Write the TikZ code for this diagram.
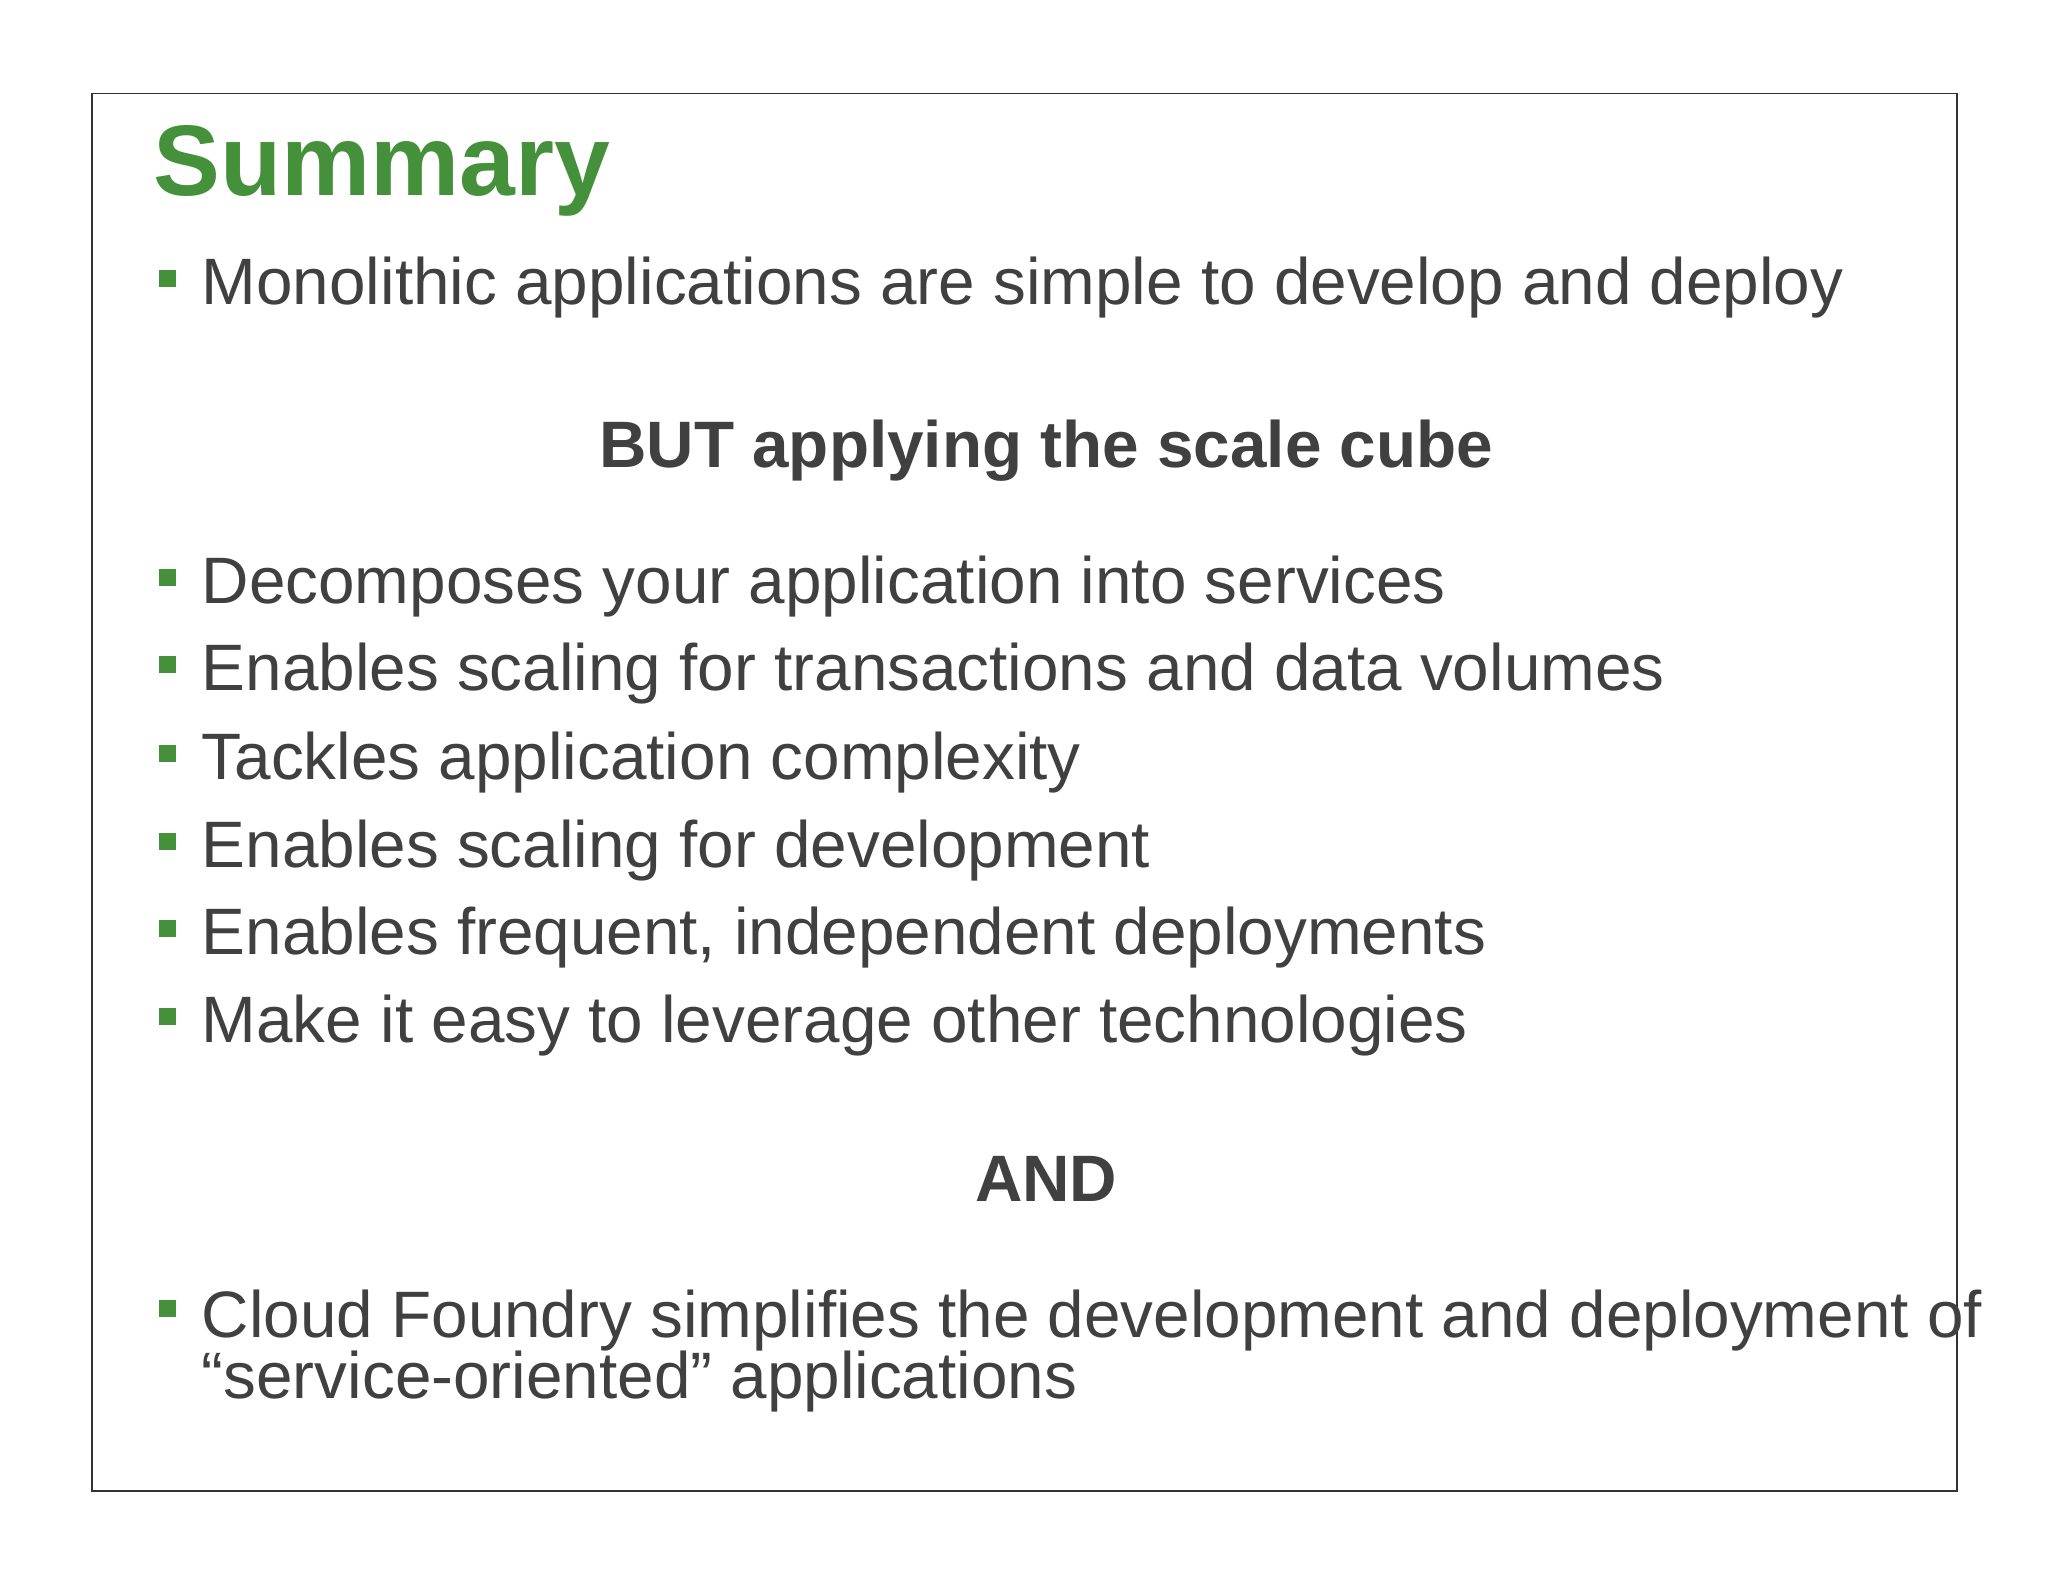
\documentclass[tikz,border=0pt]{standalone}
\usepackage{fontspec}
\setmainfont{Liberation Sans}
\definecolor{sgreen}{HTML}{45903A}
\definecolor{txt}{HTML}{404040}
\begin{document}
\begin{tikzpicture}[x=0.4pt,y=-0.4pt,
  item/.style={anchor=base west,inner sep=0pt,text=txt,font=\fontsize{20.1}{18.8}\selectfont,align=left},
  head/.style={anchor=base,inner sep=0pt,text=txt,font=\fontsize{20.1}{24}\selectfont\bfseries},
  sq/.style={fill=sgreen,minimum size=5.2pt,inner sep=0pt}]
\useasboundingbox (0,0) rectangle (1568,1211);
\fill[white] (0,0) rectangle (1568,1211);
\node[draw=black!80,line width=0.5pt,minimum width=571pt,minimum height=428pt,inner sep=0pt,anchor=north west] (frame) at (70,71) {};
\node[anchor=base west,inner sep=0pt,text=sgreen,font=\fontsize{30.7}{36}\selectfont\bfseries] (title) at (117,150) {Summary};
\foreach \n/\y/\t in {a/233/Monolithic applications are simple to develop and deploy,
  b/462/Decomposes your application into services,
  c/529/Enables scaling for transactions and data volumes,
  d/597/Tackles application complexity,
  e/664/Enables scaling for development,
  f/731/{Enables frequent, independent deployments},
  g/798/Make it easy to leverage other technologies}{
  \node[sq] (s\n) at (128.5,\y-20) {};
  \node[item] (\n) at (154,\y) {\t};
}
\node[sq] (sh) at (128.5,1002) {};
\node[item,anchor=north west] (h) at (154,987) {Cloud Foundry simplifies the development and deployment of\\“service-oriented” applications};
\node[head] (but) at (801,358) {BUT applying the scale cube};
\node[head] (and) at (801,920) {AND};
\end{tikzpicture}
\end{document}
